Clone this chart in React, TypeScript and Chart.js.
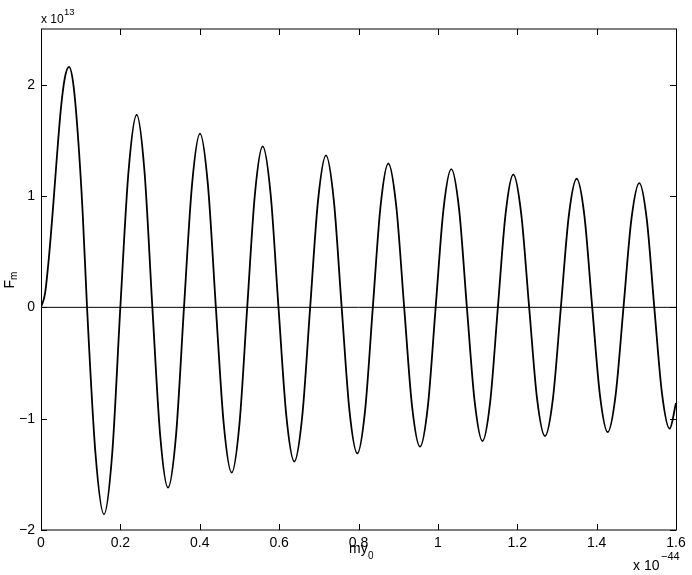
import React, { useEffect, useRef } from "react";
import { Chart, registerables } from "chart.js";

Chart.register(...registerables);

// my_0 (x 10^-44)
const xValues = [
  0, 0.01, 0.02, 0.03, 0.04, 0.05, 0.06, 0.0706, 0.082, 0.0933, 0.105, 0.116,
  0.1374, 0.1587, 0.1793, 0.1999, 0.2205, 0.2411, 0.2608, 0.2806, 0.3003, 0.32,
  0.3402, 0.3603, 0.3805, 0.4006, 0.4206, 0.4406, 0.4605, 0.4805, 0.5, 0.5196,
  0.5391, 0.5586, 0.5785, 0.5984, 0.6183, 0.6382, 0.6582, 0.6782, 0.6981, 0.7181,
  0.7378, 0.7576, 0.7773, 0.797, 0.8165, 0.8361, 0.8556, 0.8751, 0.8951, 0.9151,
  0.935, 0.955, 0.9747, 0.9944, 1.0141, 1.0338, 1.0535, 1.0731, 1.0928, 1.1124,
  1.1318, 1.1512, 1.1706, 1.19, 1.21, 1.23, 1.2499, 1.2699, 1.2899, 1.3099,
  1.3298, 1.3498, 1.3693, 1.3889, 1.4084, 1.4279, 1.4478, 1.4677, 1.4876, 1.5075,
  1.5264, 1.5453, 1.5646, 1.584, 1.6,
];
// F_m (x 10^13)
const fmValues = [
  0, 0.12, 0.45, 0.88, 1.35, 1.78, 2.06, 2.16, 1.99, 1.53, 0.85, 0,
  -1.32, -1.86, -1.32, 0, 1.22, 1.73, 1.22, 0, -1.15, -1.62,
  -1.15, 0, 1.1, 1.56, 1.1, 0, -1.05, -1.485, -1.05, 0,
  1.02, 1.445, 1.02, 0, -0.98, -1.385, -0.98, 0, 0.96, 1.364,
  0.96, 0, -0.93, -1.312, -0.93, 0, 0.91, 1.292, 0.91, 0,
  -0.89, -1.252, -0.89, 0, 0.88, 1.242, 0.88, 0, -0.85, -1.202,
  -0.85, 0, 0.84, 1.193, 0.84, 0, -0.82, -1.156, -0.82, 0,
  0.82, 1.155, 0.82, 0, -0.79, -1.12, -0.79, 0, 0.79, 1.116,
  0.79, 0, -0.77, -1.09, -0.86,
];

const zeroLineX = [0, 1.6];
const zeroLineY = [0, 0];

const xTicks = [0, 0.2, 0.4, 0.6, 0.8, 1, 1.2, 1.4, 1.6];
const yTicks = [-2, -1, 0, 1, 2];
const xMin = 0;
const xMax = 1.6;
const yMin = -2;
const yMax = 2.5;

const FONT = '"Liberation Sans", Arial, Helvetica, sans-serif';

const fmtTick = (v: number) => (v < 0 ? "\u2212" + String(-v) : String(v));

const boxPlugin = {
  id: "matlabBox",
  afterDatasetsDraw(chart: any) {
    const { ctx, chartArea: a, scales } = chart;
    const x = scales.x;
    const y = scales.y;
    const L = 6;
    ctx.save();
    ctx.strokeStyle = "#000";
    ctx.lineWidth = 1;
    ctx.beginPath();
    xTicks.forEach((v) => {
      const px = Math.round(x.getPixelForValue(v)) + 0.5;
      ctx.moveTo(px, a.bottom);
      ctx.lineTo(px, a.bottom - L);
      ctx.moveTo(px, a.top);
      ctx.lineTo(px, a.top + L);
    });
    yTicks.forEach((v) => {
      const py = Math.round(y.getPixelForValue(v)) + 0.5;
      ctx.moveTo(a.left, py);
      ctx.lineTo(a.left + L, py);
      ctx.moveTo(a.right, py);
      ctx.lineTo(a.right - L, py);
    });
    ctx.stroke();
    ctx.beginPath();
    ctx.moveTo(a.left + 0.5, a.top);
    ctx.lineTo(a.left + 0.5, a.bottom);
    ctx.moveTo(a.right + 0.5, a.top);
    ctx.lineTo(a.right + 0.5, a.bottom);
    ctx.stroke();
    ctx.beginPath();
    ctx.moveTo(a.left, a.top);
    ctx.lineTo(a.right + 1, a.top);
    ctx.moveTo(a.left, a.bottom);
    ctx.lineTo(a.right + 1, a.bottom);
    ctx.stroke();
    ctx.restore();
  },
};

export default function App() {
  const canvasRef = useRef<HTMLCanvasElement | null>(null);

  useEffect(() => {
    if (!canvasRef.current) return;
    const chart = new Chart(canvasRef.current, {
      type: "line",
      data: {
        datasets: [
          {
            data: xValues.map((v, i) => ({ x: v, y: fmValues[i] })),
            borderColor: "#000",
            borderWidth: 1.8,
            pointRadius: 0,
            cubicInterpolationMode: "monotone",
            fill: false,
          },
          {
            data: zeroLineX.map((v, i) => ({ x: v, y: zeroLineY[i] })),
            borderColor: "#000",
            borderWidth: 1,
            pointRadius: 0,
            fill: false,
          },
        ],
      },
      options: {
        animation: false,
        responsive: false,
        maintainAspectRatio: false,
        layout: { padding: { top: 29, right: 16, left: 0, bottom: 0 } },
        plugins: { legend: { display: false }, tooltip: { enabled: false } },
        scales: {
          x: {
            type: "linear",
            min: xMin,
            max: xMax,
            afterBuildTicks: (s: any) => {
              s.ticks = xTicks.map((v) => ({ value: v }));
            },
            afterFit: (s: any) => {
              s.height = 45;
            },
            grid: { display: false, drawTicks: false },
            border: { display: false },
            ticks: {
              autoSkip: false,
              maxRotation: 0,
              padding: 5,
              color: "#000",
              font: { family: FONT, size: 14 },
              callback: (v: any) => fmtTick(Number(v)),
            },
          },
          y: {
            type: "linear",
            min: yMin,
            max: yMax,
            afterBuildTicks: (s: any) => {
              s.ticks = yTicks.map((v) => ({ value: v }));
            },
            afterFit: (s: any) => {
              s.width = 41;
            },
            grid: { display: false, drawTicks: false },
            border: { display: false },
            ticks: {
              autoSkip: false,
              padding: 6,
              color: "#000",
              font: { family: FONT, size: 14 },
              callback: (v: any) => fmtTick(Number(v)),
            },
          },
        },
      },
      plugins: [boxPlugin],
    });
    return () => chart.destroy();
  }, []);

  const txt: React.CSSProperties = {
    position: "absolute",
    fontFamily: FONT,
    color: "#000",
    whiteSpace: "nowrap",
    margin: 0,
  };

  return (
    <div style={{ position: "absolute", left: 0, top: 0, width: 692, height: 575, background: "#fff" }}>
      <canvas ref={canvasRef} width={692} height={575} style={{ display: "block", width: 692, height: 575 }} />
      {/* y exponent */}
      <span style={{ ...txt, left: 41, top: 13, fontSize: 12, lineHeight: "12px" }}>x 10</span>
      <span style={{ ...txt, left: 64, top: 7, fontSize: 9.5, lineHeight: "9.5px" }}>13</span>
      {/* x exponent */}
      <span style={{ ...txt, left: 633, top: 558, fontSize: 14, lineHeight: "14px" }}>x 10</span>
      <span style={{ ...txt, left: 661, top: 551, fontSize: 11, lineHeight: "11px" }}>{"\u221244"}</span>
      {/* x label */}
      <span style={{ ...txt, left: 349, top: 541, fontSize: 14, lineHeight: "14px" }}>my</span>
      <span style={{ ...txt, left: 368, top: 551, fontSize: 10, lineHeight: "10px" }}>0</span>
      {/* y label */}
      <div
        style={{
          ...txt,
          left: 9 - 20,
          top: 280 - 7,
          width: 40,
          height: 14,
          lineHeight: "14px",
          fontSize: 14,
          textAlign: "center",
          transform: "rotate(-90deg)",
        }}
      >
        F<span style={{ fontSize: 10, position: "relative", top: 3 }}>m</span>
      </div>
    </div>
  );
}
